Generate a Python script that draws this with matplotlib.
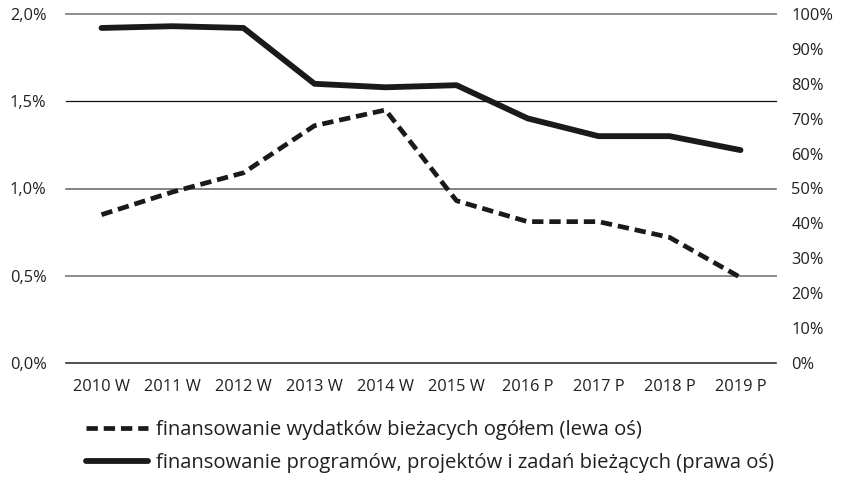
import matplotlib
matplotlib.use("Agg")
import matplotlib.pyplot as plt
from matplotlib.ticker import FixedLocator, FuncFormatter

plt.rcParams['font.family'] = ['Open Sans', 'DejaVu Sans']

categories = ["2010 W", "2011 W", "2012 W", "2013 W", "2014 W", "2015 W",
              "2016 P", "2017 P", "2018 P", "2019 P"]
current_total = [0.85, 0.98, 1.09, 1.36, 1.45, 0.93, 0.81, 0.81, 0.72, 0.49]   # left axis, %
programs = [96.0, 96.5, 96.0, 80.0, 79.0, 79.6, 70.1, 65.0, 65.0, 61.0]          # right axis, %
left_ticks = [0.0, 0.5, 1.0, 1.5, 2.0]
right_ticks = [0, 10, 20, 30, 40, 50, 60, 70, 80, 90, 100]
label_dashed = "finansowanie wydatków bieżacych ogółem (lewa oś)"
label_solid = "finansowanie programów, projektów i zadań bieżących (prawa oś)"

W, H = 841, 478
fig = plt.figure(figsize=(W / 100, H / 100), dpi=100)
ax = fig.add_axes([66 / W, 1 - 363 / H, (776 - 66) / W, (363 - 14) / H])
ax2 = ax.twinx()

fs = 11.8
x = list(range(len(categories)))

l1, = ax.plot(x, current_total, color="#1a1a1a", lw=3.4, ls=(0, (2.4, 1.25)),
              dash_capstyle="butt", solid_joinstyle="round", label=label_dashed, zorder=3)
l2, = ax2.plot(x, programs, color="#1a1a1a", lw=4.2, solid_capstyle="round",
               solid_joinstyle="round", label=label_solid, zorder=3)

ax.set_xlim(-0.5, len(categories) - 0.5)
ax.set_ylim(0, 2.0)
ax2.set_ylim(0, 100)

ax.set_xticks(x)
ax.set_xticklabels(categories, fontsize=fs, color="#231f20")
ax.yaxis.set_major_locator(FixedLocator(left_ticks))
ax.yaxis.set_major_formatter(FuncFormatter(lambda v, p: f"{v:.1f}%".replace(".", ",")))
ax2.yaxis.set_major_locator(FixedLocator(right_ticks))
ax2.yaxis.set_major_formatter(FuncFormatter(lambda v, p: f"{v:.0f}%"))

ax.tick_params(axis="x", length=0, pad=11.5)
ax.tick_params(axis="y", length=0, pad=14, labelsize=fs, labelcolor="#231f20")
ax2.tick_params(axis="y", length=0, pad=11, labelsize=fs, labelcolor="#231f20")

for a in (ax, ax2):
    for s in a.spines.values():
        s.set_visible(False)

ax.grid(axis="y", zorder=0)
ax.set_axisbelow(True)
grid_styles = {0.0: ("#231f20", 1.1), 0.5: ("#8c8c8c", 1.4), 1.0: ("#606060", 1.1),
               1.5: ("#111111", 0.9), 2.0: ("#8c8c8c", 1.4)}
for val, gl in zip(left_ticks, ax.get_ygridlines()):
    c, w = grid_styles[val]
    gl.set_color(c)
    gl.set_linewidth(w)
    gl.set_linestyle("-")
    gl.set_clip_on(False)

leg = fig.legend([l1, l2], [label_dashed, label_solid], loc="upper left",
                 bbox_to_anchor=(86 / W, 1 - 420 / H), frameon=False, fontsize=14.6,
                 handlelength=3.05, handletextpad=0.42, labelspacing=0.66,
                 borderpad=0, borderaxespad=0)
for t in leg.get_texts():
    t.set_color("#231f20")

fig.savefig("out.png", dpi=100)
